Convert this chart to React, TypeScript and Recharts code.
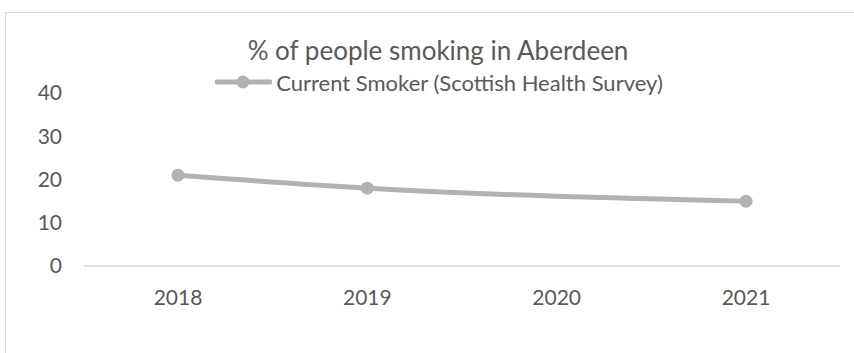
import { LineChart, Line, XAxis, YAxis } from "recharts";

const years = ["2018", "2019", "2020", "2021"];
const currentSmoker: (number | null)[] = [21, 18, null, 15];
const yTicks = [0, 10, 20, 30, 40];

const seriesName = "Current Smoker (Scottish Health Survey)";
const grey = "#b2b2b2";
const textColor = "#595959";
const font = "Lato, 'Open Sans', sans-serif";

const data = years.map((year, i) => ({ year, value: currentSmoker[i] }));

function SmokerLegend() {
  return (
    <div
      style={{
        position: "absolute",
        top: 70,
        left: 0,
        width: 878,
        height: 24,
        display: "flex",
        alignItems: "center",
        justifyContent: "center",
        fontFamily: font,
        fontSize: 22,
        color: textColor,
      }}
    >
      <svg width={57} height={14} style={{ marginRight: 4 }}>
        <line x1={2} y1={7} x2={55} y2={7} stroke={grey} strokeWidth={5} strokeLinecap="round" />
        <circle cx={28} cy={7} r={6.5} fill={grey} />
      </svg>
      <span>{seriesName}</span>
    </div>
  );
}

export default function App() {
  return (
    <div style={{ position: "absolute", left: 0, top: 0, width: 854, height: 353, background: "#fff", overflow: "hidden" }}>
      <div
        style={{
          position: "absolute",
          left: 5,
          top: 12,
          width: 852,
          height: 345,
          border: "1px solid #d9d9d9",
        }}
      />
      <div
        style={{
          position: "absolute",
          top: 35,
          left: 0,
          width: 876,
          lineHeight: "30px",
          textAlign: "center",
          fontFamily: font,
          fontSize: 26,
          color: textColor,
        }}
      >
        % of people smoking in Aberdeen
      </div>
      <SmokerLegend />
      <div style={{ position: "absolute", left: 0, top: 0 }}>
        <LineChart width={854} height={353} data={data} margin={{ top: 93, right: 14, bottom: 57, left: 24 }}>
          <XAxis
            dataKey="year"
            padding={{ left: 94, right: 94 }}
            axisLine={{ stroke: "#d9d9d9", strokeWidth: 1.5 }}
            tickLine={false}
            tickMargin={18}
            tick={{ fontSize: 21, fill: textColor, fontFamily: font }}
          />
          <YAxis
            domain={[0, 40]}
            ticks={yTicks}
            width={60}
            axisLine={false}
            tickLine={false}
            tickMargin={16}
            tick={{ fontSize: 21, fill: textColor, fontFamily: font }}
          />
          <Line
            type="monotone"
            dataKey="value"
            name={seriesName}
            stroke={grey}
            strokeWidth={5}
            connectNulls
            dot={{ r: 6.5, fill: grey, stroke: grey, strokeWidth: 0 }}
            activeDot={false}
            isAnimationActive={false}
          />
        </LineChart>
      </div>
    </div>
  );
}
